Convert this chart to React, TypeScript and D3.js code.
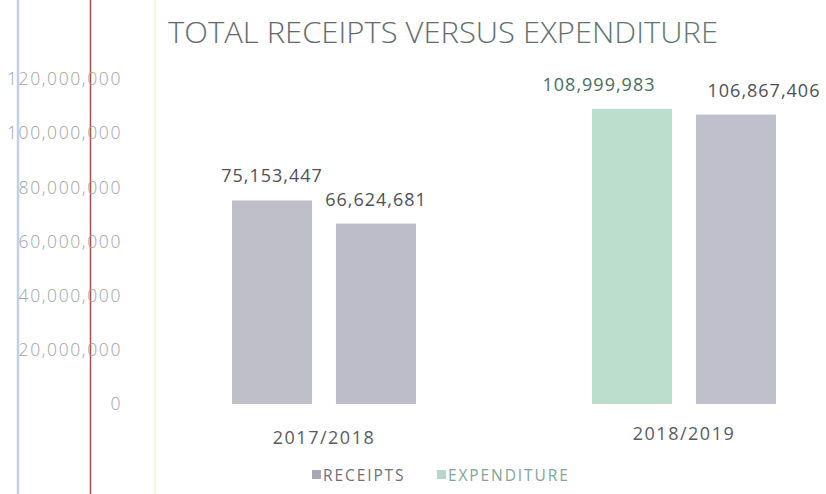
import React from "react";
import * as d3 from "d3";

const categories = ["2017/2018", "2018/2019"];
const seriesNames = ["RECEIPTS", "EXPENDITURE"];
const receipts = [75153447, 108999983];
const expenditure = [66624681, 106867406];
const yTicks = [0, 20000000, 40000000, 60000000, 80000000, 100000000, 120000000];

const W = 826;
const H = 494;

// fills as they appear in the scanned picture: [category][series]
const barFills = [
  ["#bfbfca", "#bdbdc9"],
  ["#bcdecd", "#c0c0cc"],
];
const labelDx = [
  [0, 0],
  [-33, 28],
];
const legendFills = ["#a9a9b4", "#b5d8c6"];
const legendText = ["#6e6e78", "#7fa696"];

export default function App() {
  const x0 = d3.scaleBand<string>().domain(categories).range([144, 864]);
  const x1 = d3
    .scaleBand<string>()
    .domain(seriesNames)
    .range([88, 272])
    .paddingInner(0.23);
  const y = d3.scaleLinear().domain([0, 120000000]).range([404, 79]);
  const fmt = d3.format(",");
  const values = [receipts, expenditure];
  const font = "'Open Sans', sans-serif";

  return (
    <svg
      width={W}
      height={H}
      style={{ position: "absolute", left: 0, top: 0, background: "#fff" }}
    >
      <defs>
        <linearGradient id="tg" x1="0" x2="1" y1="0" y2="0">
          <stop offset="0" stopColor="#64666d" />
          <stop offset="0.45" stopColor="#646a6b" />
          <stop offset="1" stopColor="#5e786c" />
        </linearGradient>
      </defs>
      <rect width={W} height={H} fill="#fff" />
      {/* scan edge lines */}
      <line x1={18} x2={18} y1={0} y2={H} stroke="#bfd1e8" strokeWidth={2.5} />
      <line x1={90.5} x2={90.5} y1={0} y2={H} stroke="#a34f46" strokeWidth={1.5} />
      <line x1={155} x2={155} y1={0} y2={H} stroke="#f4efd2" strokeWidth={1.5} />

      <text
        x={168}
        y={43}
        fontFamily={font}
        fontSize={29}
        fontWeight={300}
        fill="url(#tg)"
        textLength={550}
        lengthAdjust="spacingAndGlyphs"
      >
        TOTAL RECEIPTS VERSUS EXPENDITURE
      </text>

      {yTicks.map((t) => (
        <text
          key={t}
          x={122}
          y={y(t)}
          dy="0.36em"
          textAnchor="end"
          fontFamily={font}
          fontSize={17.5}
          fontWeight={300}
          letterSpacing={1.6}
          fill="#a2a2a8"
        >
          {fmt(t)}
        </text>
      ))}

      {categories.map((c, ci) => (
        <g key={c} transform={`translate(${x0(c)},0)`}>
          {seriesNames.map((s, si) => {
            const v = values[si][ci];
            const bx = x1(s)!;
            const bw = x1.bandwidth();
            return (
              <g key={s}>
                <rect
                  x={bx}
                  y={y(v)}
                  width={bw}
                  height={y(0) - y(v)}
                  fill={barFills[ci][si]}
                />
                <text
                  x={bx + bw / 2 + labelDx[ci][si]}
                  y={y(v) - 18}
                  textAnchor="middle"
                  fontFamily={font}
                  fontSize={18}
                  letterSpacing={1}
                  fill={ci === 1 && si === 0 ? "#4d6a5e" : "#4f5058"}
                >
                  {fmt(v)}
                </text>
              </g>
            );
          })}
          <text
            x={x0.bandwidth() / 2}
            y={ci === 0 ? 444 : 440}
            textAnchor="middle"
            fontFamily={font}
            fontSize={18}
            letterSpacing={1.5}
            fill="#5a5b62"
          >
            {c}
          </text>
        </g>
      ))}

      {seriesNames.map((s, i) => {
        const lx = i === 0 ? 312 : 437;
        return (
          <g key={s}>
            <rect x={lx} y={470} width={9} height={9} fill={legendFills[i]} />
            <text
              x={lx + 11}
              y={481}
              fontFamily={font}
              fontSize={15.5}
              letterSpacing={1.9}
              fill={legendText[i]}
            >
              {s}
            </text>
          </g>
        );
      })}
    </svg>
  );
}
